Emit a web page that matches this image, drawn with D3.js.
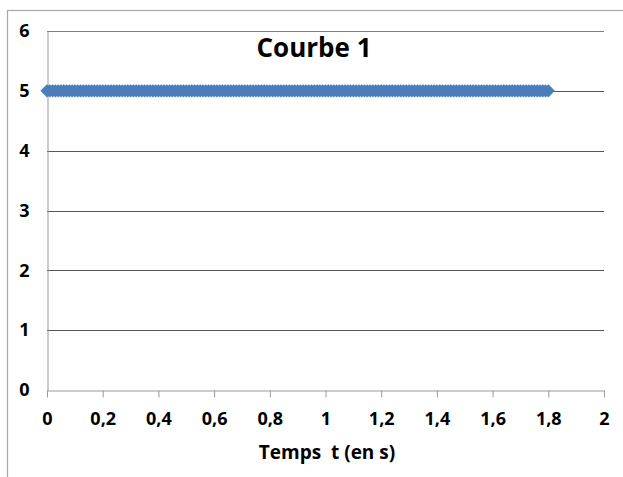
<!DOCTYPE html>
<html>
<head>
<meta charset="utf-8">
<script src="https://cdn.jsdelivr.net/npm/d3@7"></script>
<style>
  body { margin: 0; background: #fff; }
  svg { display: block; }
</style>
</head>
<body>
<div id="chart"></div>
<script>
// temps t (s), pas de 0,01 s
const temps = [
  0, 0.01, 0.02, 0.03, 0.04, 0.05, 0.06, 0.07, 0.08, 0.09,
  0.1, 0.11, 0.12, 0.13, 0.14, 0.15, 0.16, 0.17, 0.18, 0.19,
  0.2, 0.21, 0.22, 0.23, 0.24, 0.25, 0.26, 0.27, 0.28, 0.29,
  0.3, 0.31, 0.32, 0.33, 0.34, 0.35, 0.36, 0.37, 0.38, 0.39,
  0.4, 0.41, 0.42, 0.43, 0.44, 0.45, 0.46, 0.47, 0.48, 0.49,
  0.5, 0.51, 0.52, 0.53, 0.54, 0.55, 0.56, 0.57, 0.58, 0.59,
  0.6, 0.61, 0.62, 0.63, 0.64, 0.65, 0.66, 0.67, 0.68, 0.69,
  0.7, 0.71, 0.72, 0.73, 0.74, 0.75, 0.76, 0.77, 0.78, 0.79,
  0.8, 0.81, 0.82, 0.83, 0.84, 0.85, 0.86, 0.87, 0.88, 0.89,
  0.9, 0.91, 0.92, 0.93, 0.94, 0.95, 0.96, 0.97, 0.98, 0.99,
  1, 1.01, 1.02, 1.03, 1.04, 1.05, 1.06, 1.07, 1.08, 1.09,
  1.1, 1.11, 1.12, 1.13, 1.14, 1.15, 1.16, 1.17, 1.18, 1.19,
  1.2, 1.21, 1.22, 1.23, 1.24, 1.25, 1.26, 1.27, 1.28, 1.29,
  1.3, 1.31, 1.32, 1.33, 1.34, 1.35, 1.36, 1.37, 1.38, 1.39,
  1.4, 1.41, 1.42, 1.43, 1.44, 1.45, 1.46, 1.47, 1.48, 1.49,
  1.5, 1.51, 1.52, 1.53, 1.54, 1.55, 1.56, 1.57, 1.58, 1.59,
  1.6, 1.61, 1.62, 1.63, 1.64, 1.65, 1.66, 1.67, 1.68, 1.69,
  1.7, 1.71, 1.72, 1.73, 1.74, 1.75, 1.76, 1.77, 1.78, 1.79,
  1.8
]
// valeurs de la courbe 1 (constantes)
const valeurs = [
  5, 5, 5, 5, 5, 5, 5, 5, 5, 5, 5, 5, 5, 5, 5, 5, 5, 5, 5, 5,
  5, 5, 5, 5, 5, 5, 5, 5, 5, 5, 5, 5, 5, 5, 5, 5, 5, 5, 5, 5,
  5, 5, 5, 5, 5, 5, 5, 5, 5, 5, 5, 5, 5, 5, 5, 5, 5, 5, 5, 5,
  5, 5, 5, 5, 5, 5, 5, 5, 5, 5, 5, 5, 5, 5, 5, 5, 5, 5, 5, 5,
  5, 5, 5, 5, 5, 5, 5, 5, 5, 5, 5, 5, 5, 5, 5, 5, 5, 5, 5, 5,
  5, 5, 5, 5, 5, 5, 5, 5, 5, 5, 5, 5, 5, 5, 5, 5, 5, 5, 5, 5,
  5, 5, 5, 5, 5, 5, 5, 5, 5, 5, 5, 5, 5, 5, 5, 5, 5, 5, 5, 5,
  5, 5, 5, 5, 5, 5, 5, 5, 5, 5, 5, 5, 5, 5, 5, 5, 5, 5, 5, 5,
  5, 5, 5, 5, 5, 5, 5, 5, 5, 5, 5, 5, 5, 5, 5, 5, 5, 5, 5, 5,
  5
]
const xTicks = [0, 0.2, 0.4, 0.6, 0.8, 1, 1.2, 1.4, 1.6, 1.8, 2]
const yTicks = [0, 1, 2, 3, 4, 5, 6]
const titre = "Courbe 1"
const titreX = "Temps  t (en s)"

const width = 623
const height = 477
const margin = [31, 19, 87, 47] // haut droite bas gauche
const color = "#4a7ebb"
const font = "'Open Sans', 'Liberation Sans', sans-serif"
const fmt = d => String(d).replace(".", ",")

const xScale = d3.scaleLinear().domain([0, 2]).range([margin[3], width - margin[1]])
const yScale = d3.scaleLinear().domain([0, 6]).range([height - margin[2], margin[0]])

const svg = d3.create("svg")
  .attr("width", width)
  .attr("height", height)
  .attr("viewBox", [0, 0, width, height])

// cadre du graphique
svg.append("rect")
  .attr("x", 7.5).attr("y", 10.5)
  .attr("width", width + 10).attr("height", height + 10)
  .attr("fill", "none").attr("stroke", "#a6a6a6").attr("stroke-width", 1.2)

// grille horizontale
svg.append("g")
  .selectAll("line")
  .data(yTicks.filter(d => d > 0))
  .join("line")
  .attr("x1", xScale(0)).attr("x2", xScale(2))
  .attr("y1", d => Math.round(yScale(d)) + 0.5).attr("y2", d => Math.round(yScale(d)) + 0.5)
  .attr("stroke", d => d === 6 ? "#808080" : "#555")
  .attr("stroke-width", 1)

const styleText = g => g.selectAll(".tick text")
  .attr("font-size", 18).attr("font-weight", "bold")
  .attr("fill", "#000").attr("font-family", font)

// axe Y
const yAxis = d3.axisLeft(yScale).tickValues(yTicks).tickSize(0).tickPadding(18).tickFormat(fmt)
svg.append("g")
  .attr("transform", `translate(${xScale(0) + 0.5},0)`)
  .call(yAxis)
  .call(g => g.select(".domain").attr("stroke", "#999"))
  .call(styleText)

// axe X
const xAxis = d3.axisBottom(xScale).tickValues(xTicks).tickSize(7).tickSizeOuter(0).tickPadding(15).tickFormat(fmt)
svg.append("g")
  .attr("transform", `translate(0,${Math.round(yScale(0)) + 0.5})`)
  .call(xAxis)
  .call(g => g.select(".domain").attr("stroke", "#999"))
  .call(g => g.selectAll(".tick line").attr("stroke", "#999"))
  .call(styleText)

// courbe
const I = d3.range(temps.length)
const line = d3.line().x(i => xScale(temps[i])).y(i => yScale(valeurs[i]))
svg.append("path")
  .attr("d", line(I))
  .attr("fill", "none").attr("stroke", color).attr("stroke-width", 2.5)

const diamond = d3.symbol().type(d3.symbolDiamond2).size(110)
svg.append("g")
  .attr("fill", color)
  .selectAll("path")
  .data(I)
  .join("path")
  .attr("transform", i => `translate(${xScale(temps[i])},${yScale(valeurs[i])})`)
  .attr("d", diamond)

// titres
svg.append("text")
  .attr("x", 314).attr("y", 57)
  .attr("text-anchor", "middle")
  .attr("font-family", font)
  .attr("font-size", 26).attr("font-weight", "bold")
  .text(titre)

svg.append("text")
  .attr("x", 327).attr("y", 459)
  .attr("text-anchor", "middle")
  .attr("font-family", font)
  .attr("font-size", 19).attr("font-weight", "bold")
  .attr("xml:space", "preserve")
  .style("white-space", "pre")
  .text(titreX)

document.querySelector("#chart").append(svg.node())
</script>
</body>
</html>
